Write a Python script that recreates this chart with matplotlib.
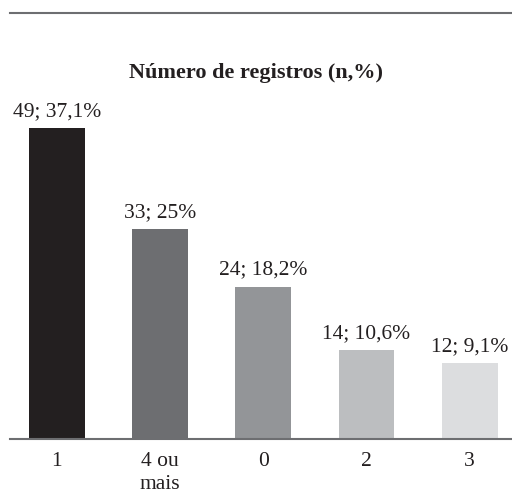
import matplotlib.pyplot as plt
from matplotlib.lines import Line2D

categorias = ['1', '4 ou\nmais', '0', '2', '3']
contagens = [49, 33, 24, 14, 12]
percentuais = ['37,1%', '25%', '18,2%', '10,6%', '9,1%']
cores = ['#231f20', '#6d6e71', '#939598', '#bcbec0', '#dcdddf']

plt.rcParams['font.family'] = ['Liberation Serif', 'DejaVu Serif']

fig = plt.figure(figsize=(5.12, 4.97), dpi=100)
# axes: left x=10px, right x=512px, bottom y=439px, top y=90px
ax = fig.add_axes([10/512, 1 - 439/497, 502/512, 349/497])

x = list(range(len(categorias)))
bars = ax.bar(x, contagens, width=0.54, color=cores)

for b, n, p in zip(bars, contagens, percentuais):
    ax.annotate(f'{n}; {p}', (b.get_x() + b.get_width()/2, b.get_height()),
                xytext=(0, 5), textcoords='offset points',
                ha='center', va='bottom', fontsize=15.5, color='#231f20',
                annotation_clip=False)

ax.set_xlim(-0.455, 4.41)
ax.set_ylim(0, 349/6.35)
ax.set_xticks(x)
ax.set_xticklabels(categorias, fontsize=15.5, color='#231f20', linespacing=1.3)
ax.tick_params(axis='x', length=0, pad=9)
ax.set_yticks([])
for s in ['top', 'right', 'left']:
    ax.spines[s].set_visible(False)
ax.spines['bottom'].set_color('#6d6e71')
ax.spines['bottom'].set_linewidth(1.5)

fig.text(0.5, 1 - 73/497, 'Número de registros (n,%)', ha='center', va='center',
         fontsize=16, fontweight='bold', color='#231f20')

fig.add_artist(Line2D([10/512, 1], [1 - 13/497, 1 - 13/497],
                      color='#6d6e71', linewidth=1.5, transform=fig.transFigure))

fig.savefig('out.png', dpi=100)
